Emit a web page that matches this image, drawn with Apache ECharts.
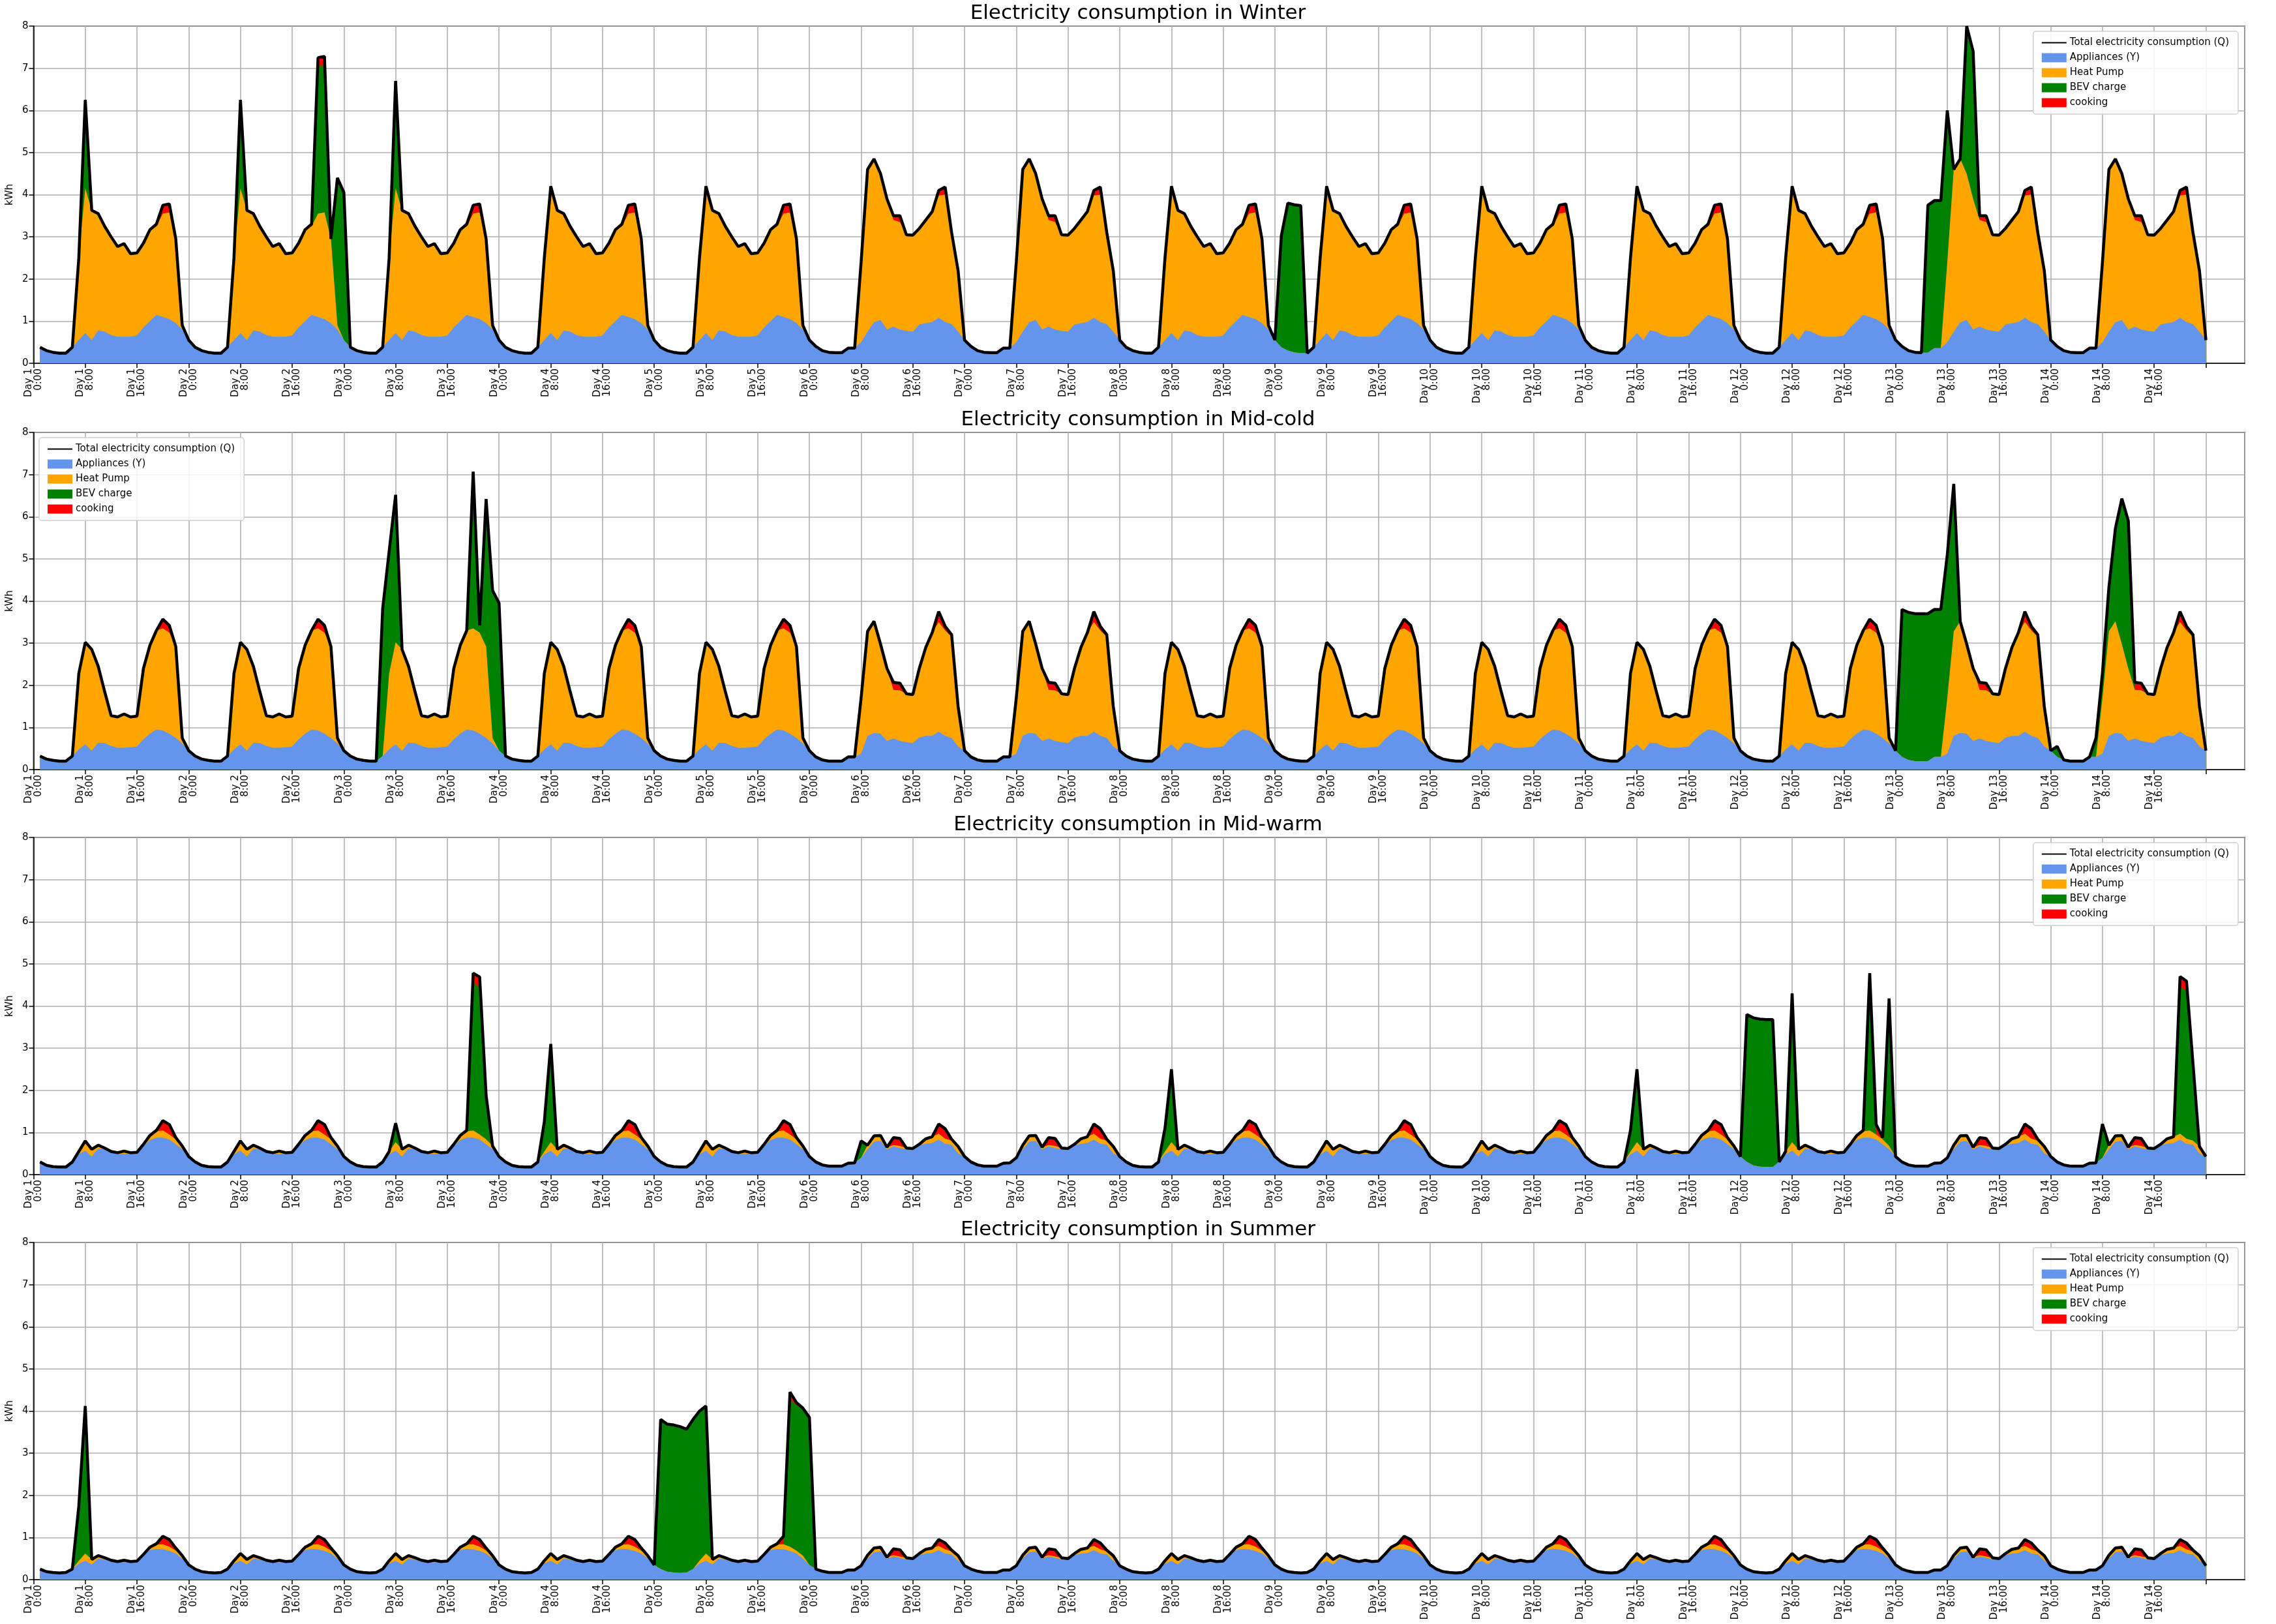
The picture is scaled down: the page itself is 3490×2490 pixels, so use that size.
<!DOCTYPE html>
<html>
<head>
<meta charset="utf-8">
<script src="https://cdn.jsdelivr.net/npm/echarts@6/dist/echarts.min.js"></script>
<style>
  html, body { margin: 0; padding: 0; background: #fff; }
  #main { width: 3490px; height: 2490px; }
</style>
</head>
<body>
<div id="main"></div>
<script>
// hourly profiles, index 0 = 1:00 ... index 23 = 24:00 (next day 0:00)
const seasons = ['Winter', 'Mid-cold', 'Mid-warm', 'Summer'];
const weekendDays = [6, 7, 13, 14];
const nDays = 14;

// Winter
const winterApplWd = [.38,.30,.26,.24,.24,.38,.55,.72,.55,.78,.75,.67,.63,.63,.63,.66,.85,1.0,1.15,1.1,1.05,.95,.8,.55];
const winterHpWd   = [0,0,0,0,0,0,1.95,3.43,3.08,2.77,2.5,2.33,2.14,2.21,1.97,1.96,2.0,2.17,2.1,2.45,2.53,2.0,0.1,0];
const winterCookWd = [0,0,0,0,0,0,0,.05,0,0,0,0,0,0,0,0,0,0,.05,.2,.2,0,0,0];
const winterApplWe = [.40,.30,.26,.25,.25,.36,.36,.5,.75,.97,1.03,.8,.87,.8,.77,.75,.92,.95,.98,1.08,.98,.93,.75,.55];
const winterHpWe   = [0,0,0,0,0,0,0,1.9,3.85,3.88,3.47,3.1,2.53,2.55,2.28,2.29,2.28,2.45,2.62,2.9,3.02,2.17,1.45,0];
const winterCookWe = [0,0,0,0,0,0,0,0,0,0,0,0,.1,.15,0,0,0,0,0,.12,.18,0,0,0];
const winterBev = [[8,2.05],[32,2.05],[44,3.5],[45,3.5],[47,3.5],[48,3.5],[56,2.5],
  [193,2.65],[194,3.5],[195,3.5],[196,3.5],
  [293,3.5],[294,3.5],[295,3.5],[296,3.6],[299,3.5],[300,3.5]];

// Mid-cold
const midcoldApplWd = [.32,.25,.22,.2,.2,.32,.48,.6,.45,.64,.63,.56,.52,.52,.53,.55,.72,.85,.95,.93,.85,.75,.62,.45];
const midcoldHpWd   = [0,0,0,0,0,0,1.8,2.42,2.4,1.81,1.22,.72,.73,.8,.72,.72,1.68,2.1,2.35,2.42,2.4,2.17,.13,0];
const midcoldCookWd = [0,0,0,0,0,0,0,0,0,0,0,0,0,0,0,0,0,0,0,.22,.17,0,0,0];
const midcoldApplWe = [.3,.23,.2,.2,.2,.3,.3,.38,.8,.87,.85,.68,.74,.68,.65,.63,.76,.8,.8,.9,.8,.75,.55,.45];
const midcoldHpWe   = [0,0,0,0,0,0,0,1.32,2.48,2.65,2.13,1.72,1.15,1.2,1.15,1.15,1.64,2.1,2.45,2.6,2.5,2.4,.95,0];
const midcoldCookWe = [0,0,0,0,0,0,0,0,0,0,0,0,.18,.17,0,0,0,0,0,.25,.1,.05,0,0];
const midcoldBev = [[54,3.5],[55,2.9],[56,3.5],[68,3.5],[70,3.5],[71,3.5],[72,3.5],
  [289,3.5],[290,3.5],[291,3.5],[292,3.5],[293,3.5],[294,3.5],[295,3.5],[296,3.4],[297,3.5],
  [313,0.25],[319,0.45],[320,0.6],[321,1.05],[322,2.2],[323,3.45],[324,3.5]];

// Mid-warm
const midwarmApplWd = [.3,.22,.19,.18,.18,.3,.48,.57,.43,.62,.6,.53,.49,.49,.5,.52,.68,.82,.88,.88,.83,.72,.6,.43];
const midwarmHpWd   = [0,0,0,0,0,0,.07,.2,.17,.08,.03,.02,.03,.07,.02,.01,.04,.11,.15,.17,.12,.12,.08,0];
const midwarmCookWd = [0,0,0,0,0,0,0,.03,0,0,0,0,0,0,0,0,0,0,.02,.23,.24,.04,0,0];
const midwarmApplWe = [.3,.23,.2,.2,.2,.27,.28,.39,.6,.78,.8,.6,.67,.63,.6,.6,.7,.73,.75,.83,.73,.71,.5,.43];
const midwarmHpWe   = [0,0,0,0,0,0,0,.01,.1,.14,.13,.05,.03,.05,.03,.02,.02,.12,.15,.14,.12,.1,.17,0];
const midwarmCookWe = [0,0,0,0,0,0,0,0,0,0,0,0,.18,.18,0,0,0,0,0,.23,.24,.03,0,0];
const midwarmBev = [[56,0.42],[68,3.5],[69,3.5],[70,1.0],[79,0.7],[80,2.3],[128,0.4],
  [175,0.55],[176,1.7],[247,0.5],[248,1.7],
  [265,3.5],[266,3.5],[267,3.5],[268,3.5],[269,3.5],[272,3.5],[284,3.5],[287,3.5],
  [320,0.8],[332,3.5],[333,3.5],[334,1.8]];

// Summer
const summerApplWd = [.25,.19,.17,.16,.17,.25,.38,.45,.36,.5,.48,.43,.41,.41,.41,.42,.58,.7,.73,.72,.68,.62,.5,.35];
const summerHpWd   = [0,0,0,0,0,0,.07,.17,.12,.07,.04,.03,.02,.05,.02,.02,.02,.07,.1,.12,.1,.07,.07,0];
const summerCookWd = [0,0,0,0,0,0,0,0,0,0,0,0,0,0,0,0,0,0,.02,.19,.17,.06,0,0];
const summerApplWe = [.25,.2,.17,.17,.17,.23,.23,.3,.5,.65,.67,.5,.55,.52,.48,.47,.58,.62,.63,.7,.62,.6,.45,.33];
const summerHpWe   = [0,0,0,0,0,0,0,.03,.08,.1,.1,.03,.03,.03,.04,.03,.04,.1,.12,.1,.1,.07,.12,0];
const summerCookWe = [0,0,0,0,0,0,0,0,0,0,0,0,.15,.16,0,0,0,0,0,.15,.15,.03,0,0];
const summerBev = [[7,1.3],[8,3.5],[97,3.55],[98,3.5],[99,3.5],[100,3.47],[101,3.4],[102,3.55],[103,3.55],[104,3.5],
  [117,3.5],[118,3.45],[119,3.5],[120,3.5]];

const profiles = [
  {wd: [winterApplWd, winterHpWd, winterCookWd], we: [winterApplWe, winterHpWe, winterCookWe], bev: winterBev},
  {wd: [midcoldApplWd, midcoldHpWd, midcoldCookWd], we: [midcoldApplWe, midcoldHpWe, midcoldCookWe], bev: midcoldBev},
  {wd: [midwarmApplWd, midwarmHpWd, midwarmCookWd], we: [midwarmApplWe, midwarmHpWe, midwarmCookWe], bev: midwarmBev},
  {wd: [summerApplWd, summerHpWd, summerCookWd], we: [summerApplWe, summerHpWe, summerCookWe], bev: summerBev}
];

const names = ['Total electricity consumption (Q)', 'Appliances (Y)', 'Heat Pump', 'BEV charge', 'cooking'];
const colors = ['#000000', '#6495ED', '#FFA500', '#008000', '#FF0000'];

// build hourly stacked tops for one season (appliances, +heat pump, +BEV, +cooking)
function buildSeason(p) {
  const layers = [[], [], [], []];
  const bevMap = {};
  p.bev.forEach(function (e) { bevMap[e[0]] = e[1]; });
  for (let d = 1; d <= nDays; d++) {
    const prof = weekendDays.indexOf(d) >= 0 ? p.we : p.wd;
    for (let h = 0; h < 24; h++) {
      const x = (d - 1) * 24 + h + 1;
      const parts = [prof[0][h], prof[1][h], bevMap[x] || 0, prof[2][h]];
      let sum = 0;
      parts.forEach(function (v, k) {
        sum += v;
        layers[k].push([x, +sum.toFixed(3)]);
      });
    }
  }
  return layers;
}

const chart = echarts.init(document.getElementById('main'), null, {renderer: 'canvas'});

const gridTops = [40, 663, 1284, 1905];
const gridH = 517;
const font = 'DejaVu Sans';

const option = {
  animation: false,
  backgroundColor: '#ffffff',
  title: [], legend: [], grid: [], xAxis: [], yAxis: [], series: []
};

seasons.forEach(function (s, i) {
  const layers = buildSeason(profiles[i]);
  option.title.push({
    text: 'Electricity consumption in ' + s,
    left: 'center', top: gridTops[i] - 40,
    textStyle: {fontFamily: font, fontSize: 31, fontWeight: 'normal', color: '#000'}
  });
  option.grid.push({
    left: 49, right: 48, top: gridTops[i], height: gridH,
    show: true, borderColor: '#000', borderWidth: 1.5, backgroundColor: 'transparent'
  });
  option.xAxis.push({
    type: 'value', gridIndex: i, min: 0, max: 342, interval: 8,
    axisLine: {show: true, onZero: false, lineStyle: {color: '#000', width: 1.5}},
    axisTick: {show: true, length: 7, lineStyle: {color: '#000', width: 1.5}},
    splitLine: {show: true, lineStyle: {color: '#b0b0b0', width: 1.6}},
    axisLabel: {
      rotate: 90, fontFamily: font, fontSize: 15, color: '#000', margin: 8,
      showMaxLabel: false,
      formatter: function (v) {
        if (v > 330) return '';
        return 'Day ' + (Math.floor(v / 24) + 1) + '\n' + (v % 24) + ':00';
      }
    }
  });
  option.yAxis.push({
    type: 'value', gridIndex: i, min: 0, max: 8, interval: 1,
    name: 'kWh', nameLocation: 'middle', nameRotate: 90, nameGap: 28,
    nameTextStyle: {fontFamily: font, fontSize: 15, color: '#000'},
    axisLine: {show: true, lineStyle: {color: '#000', width: 1.5}},
    axisTick: {show: true, length: 7, lineStyle: {color: '#000', width: 1.5}},
    splitLine: {show: true, lineStyle: {color: '#b0b0b0', width: 1.6}},
    axisLabel: {fontFamily: font, fontSize: 15, color: '#000', margin: 8}
  });
  const legendPos = i === 1 ? {left: 60} : {right: 58};
  option.legend.push(Object.assign({
    top: gridTops[i] + 8, orient: 'vertical', itemGap: 8,
    itemWidth: 38, itemHeight: 14,
    backgroundColor: 'rgba(255,255,255,0.85)', borderColor: '#d0d0d0', borderWidth: 1.5, borderRadius: 4,
    padding: [10, 14, 10, 12],
    textStyle: {fontFamily: font, fontSize: 15, color: '#000'},
    data: [
      {name: names[0], itemStyle: {opacity: 0}},
      {name: names[1], icon: 'rect'},
      {name: names[2], icon: 'rect'},
      {name: names[3], icon: 'rect'},
      {name: names[4], icon: 'rect'}
    ]
  }, legendPos));

  // draw the highest cumulative layer first so lower layers cover it
  for (let k = 3; k >= 0; k--) {
    option.series.push({
      name: names[k + 1], type: 'line', xAxisIndex: i, yAxisIndex: i,
      data: layers[k], symbol: 'none', color: colors[k + 1],
      lineStyle: {width: 0, opacity: 0},
      areaStyle: {color: colors[k + 1], opacity: 1, origin: 'start'},
      silent: true, z: 2 + (3 - k)
    });
  }
  option.series.push({
    name: names[0], type: 'line', xAxisIndex: i, yAxisIndex: i,
    data: layers[3], symbol: 'none', color: '#000',
    lineStyle: {color: '#000', width: 4.5},
    silent: true, z: 10
  });
});

chart.setOption(option);
</script>
</body>
</html>
